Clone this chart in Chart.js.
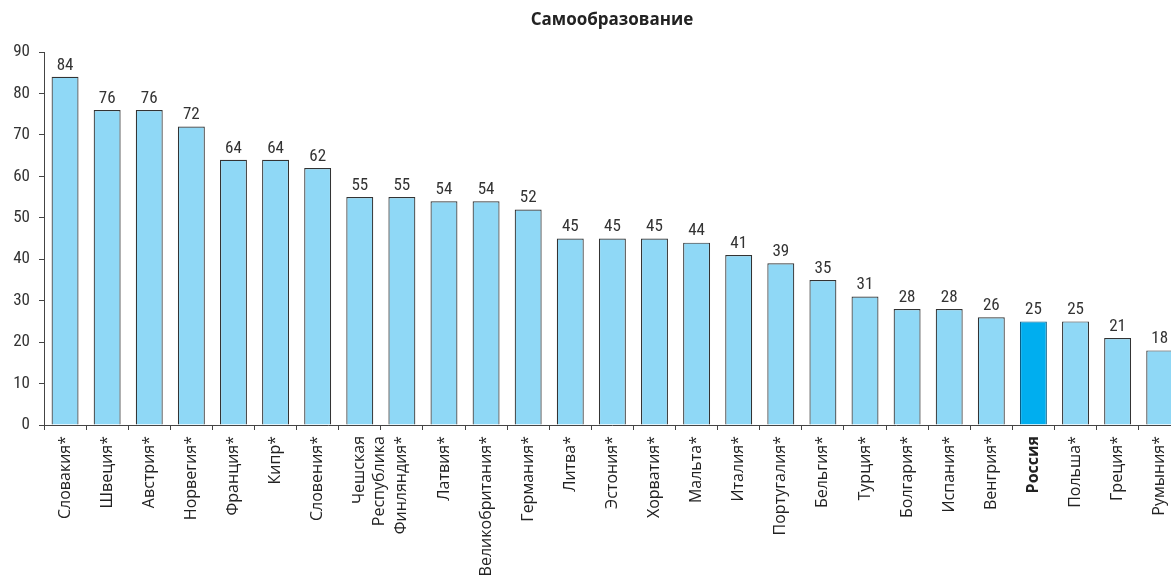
<!DOCTYPE html>
<html>
<head>
<meta charset="utf-8">
<script src="https://cdn.jsdelivr.net/npm/chart.js@4.4.0/dist/chart.umd.min.js"></script>
<style>
  body { margin: 0; background: #fff; overflow: hidden; }
  #wrap { position: absolute; left: 0; top: 0; width: 1185px; height: 587px; }
</style>
</head>
<body>
<div id="wrap"><canvas id="myChart" width="1185" height="587"></canvas></div>
<script>
// Самообразование chart
const chartTitle = "Самообразование";

const countries = [
  "Словакия*", "Швеция*", "Австрия*", "Норвегия*", "Франция*", "Кипр*",
  "Словения*", ["Чешская", "Республика"], "Финляндия*", "Латвия*",
  "Великобритания*", "Германия*", "Литва*", "Эстония*", "Хорватия*",
  "Мальта*", "Италия*", "Португалия*", "Бельгия*", "Турция*", "Болгария*",
  "Испания*", "Венгрия*", "Россия", "Польша*", "Греция*", "Румыния*"
];

const values = [
  84, 76, 76, 72, 64, 64, 62, 55, 55, 54, 54, 52, 45, 45, 45, 44, 41, 39,
  35, 31, 28, 28, 26, 25, 25, 21, 18
];

const yTicks = [0, 10, 20, 30, 40, 50, 60, 70, 80, 90];

const highlight = "Россия";

const numFont = "'Liberation Sans Narrow', 'Roboto Condensed', Roboto, sans-serif";
const labelFont = "'Open Sans', 'Noto Sans', sans-serif";

const barColors = countries.map(function (c) {
  return c === highlight ? "#00aeef" : "#8fd8f6";
});
const borderColors = countries.map(function (c) {
  return c === highlight ? "#0a5f86" : "#333333";
});

// value labels above bars + title
const valueLabels = {
  id: "valueLabels",
  afterDatasetsDraw(chart) {
    const ctx = chart.ctx;
    const meta = chart.getDatasetMeta(0);
    ctx.save();
    ctx.fillStyle = "#333";
    ctx.font = "17px " + numFont;
    ctx.textAlign = "center";
    ctx.textBaseline = "bottom";
    meta.data.forEach(function (bar, i) {
      ctx.fillText(values[i], bar.x, bar.y - 3);
    });
    ctx.font = "bold 17px " + labelFont;
    ctx.fillStyle = "#222";
    ctx.textBaseline = "middle";
    ctx.fillText(chartTitle, 612, 20);
    ctx.restore();
  },
};

const data = {
  labels: countries,
  datasets: [
    {
      data: values,
      backgroundColor: barColors,
      borderColor: borderColors,
      borderWidth: 1.2,
      categoryPercentage: 1,
      barPercentage: 0.64,
    },
  ],
};

const config = {
  type: "bar",
  data: data,
  options: {
    responsive: false,
    animation: false,
    devicePixelRatio: 1,
    layout: {
      padding: { top: 52, right: 4, left: 0, bottom: 0 },
    },
    scales: {
      x: {
        grid: {
          offset: true,
          drawOnChartArea: false,
          drawTicks: true,
          tickLength: 5,
          color: "#444",
        },
        border: { color: "#444", width: 1 },
        ticks: {
          autoSkip: false,
          maxRotation: 90,
          minRotation: 90,
          padding: 6,
          color: "#222",
          font: function (c) {
            return {
              family: labelFont,
              size: 16,
              weight: countries[c.index] === highlight ? "bold" : "normal",
            };
          },
        },
        afterFit: function (scale) {
          scale.height = 162;
        },
      },
      y: {
        min: 0,
        max: 90,
        grid: {
          drawOnChartArea: false,
          drawTicks: true,
          tickLength: 5,
          color: "#444",
        },
        border: { color: "#444", width: 1 },
        afterBuildTicks: function (scale) {
          scale.ticks = yTicks.map(function (v) {
            return { value: v };
          });
        },
        ticks: {
          padding: 9,
          color: "#333",
          font: { family: numFont, size: 17 },
        },
        afterFit: function (scale) {
          scale.width = 44;
        },
      },
    },
    plugins: {
      legend: { display: false },
      title: { display: false },
      tooltip: { enabled: false },
    },
  },
  plugins: [valueLabels],
};

const myChart = new Chart(document.getElementById("myChart"), config);
</script>
</body>
</html>
